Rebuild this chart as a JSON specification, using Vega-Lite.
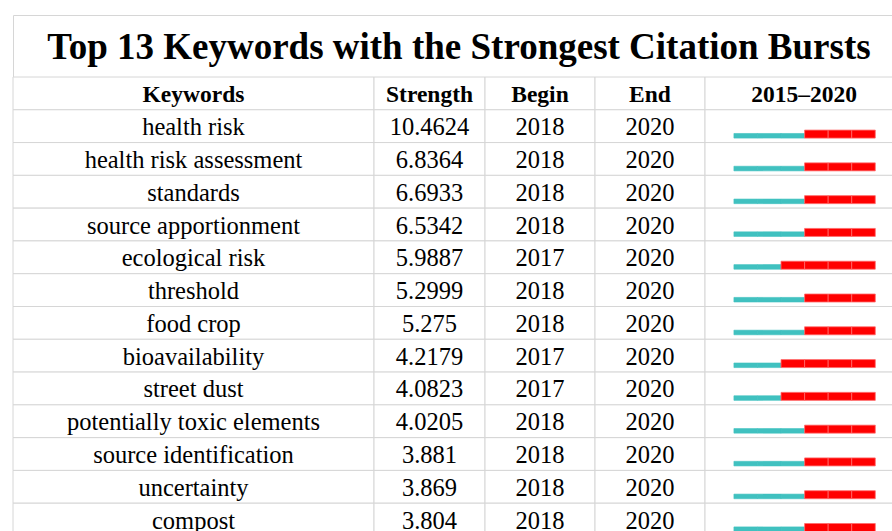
{
  "$schema": "https://vega.github.io/schema/vega-lite/v6.json",
  "padding": {"left": 12, "top": 14, "right": 0, "bottom": 0},
  "background": "white",
  "spacing": 0,
  "bounds": "flush",
  "config": {"view": {"stroke": null}, "concat": {"spacing": 0}},
  "datasets": {
    "headers": [
      {"row": 0, "col": "keyword", "label": "Keywords"},
      {"row": 0, "col": "strength", "label": "Strength"},
      {"row": 0, "col": "begin", "label": "Begin"},
      {"row": 0, "col": "end", "label": "End"},
      {"row": 0, "col": "burst", "label": "2015–2020"}
    ],
    "table": [
      {"row": 1, "keyword": "health risk", "strength": "10.4624", "begin": 2018, "end": 2020, "years": [2015, 2016, 2017, 2018, 2019, 2020]},
      {"row": 2, "keyword": "health risk assessment", "strength": "6.8364", "begin": 2018, "end": 2020, "years": [2015, 2016, 2017, 2018, 2019, 2020]},
      {"row": 3, "keyword": "standards", "strength": "6.6933", "begin": 2018, "end": 2020, "years": [2015, 2016, 2017, 2018, 2019, 2020]},
      {"row": 4, "keyword": "source apportionment", "strength": "6.5342", "begin": 2018, "end": 2020, "years": [2015, 2016, 2017, 2018, 2019, 2020]},
      {"row": 5, "keyword": "ecological risk", "strength": "5.9887", "begin": 2017, "end": 2020, "years": [2015, 2016, 2017, 2018, 2019, 2020]},
      {"row": 6, "keyword": "threshold", "strength": "5.2999", "begin": 2018, "end": 2020, "years": [2015, 2016, 2017, 2018, 2019, 2020]},
      {"row": 7, "keyword": "food crop", "strength": "5.275", "begin": 2018, "end": 2020, "years": [2015, 2016, 2017, 2018, 2019, 2020]},
      {"row": 8, "keyword": "bioavailability", "strength": "4.2179", "begin": 2017, "end": 2020, "years": [2015, 2016, 2017, 2018, 2019, 2020]},
      {"row": 9, "keyword": "street dust", "strength": "4.0823", "begin": 2017, "end": 2020, "years": [2015, 2016, 2017, 2018, 2019, 2020]},
      {"row": 10, "keyword": "potentially toxic elements", "strength": "4.0205", "begin": 2018, "end": 2020, "years": [2015, 2016, 2017, 2018, 2019, 2020]},
      {"row": 11, "keyword": "source identification", "strength": "3.881", "begin": 2018, "end": 2020, "years": [2015, 2016, 2017, 2018, 2019, 2020]},
      {"row": 12, "keyword": "uncertainty", "strength": "3.869", "begin": 2018, "end": 2020, "years": [2015, 2016, 2017, 2018, 2019, 2020]},
      {"row": 13, "keyword": "compost", "strength": "3.804", "begin": 2018, "end": 2020, "years": [2015, 2016, 2017, 2018, 2019, 2020]}
    ]
  },
  "vconcat": [
    {
      "width": 880,
      "height": 62,
      "view": {"stroke": "#d6d6d6", "strokeWidth": 1},
      "data": {"values": [{"title": "Top 13 Keywords with the Strongest Citation Bursts"}]},
      "mark": {"type": "text", "font": "Liberation Serif", "fontWeight": "bold", "fontSize": 37, "color": "black", "dx": 6, "dy": 2},
      "encoding": {"text": {"field": "title", "type": "nominal"}}
    },
    {
      "spacing": 0,
      "bounds": "flush",
      "hconcat": [
        {
          "width": 361,
          "height": 459,
          "encoding": {"y": {"field": "row", "type": "ordinal", "scale": {"domain": [0,1,2,3,4,5,6,7,8,9,10,11,12,13], "paddingInner": 0, "paddingOuter": 0}, "axis": null}},
          "layer": [
            {"data": {"name": "headers"}, "transform": [{"filter": "datum.col == 'keyword'"}], "mark": {"type": "rect", "fill": "white", "stroke": "#d6d6d6", "strokeWidth": 1}},
            {"data": {"name": "headers"}, "transform": [{"filter": "datum.col == 'keyword'"}], "mark": {"type": "text", "font": "Liberation Serif", "fontWeight": "bold", "fontSize": 23.5, "color": "black", "dy": 2}, "encoding": {"text": {"field": "label", "type": "nominal"}}},
            {"data": {"name": "table"}, "mark": {"type": "rect", "fill": "white", "stroke": "#d6d6d6", "strokeWidth": 1}},
            {"data": {"name": "table"}, "mark": {"type": "text", "font": "Liberation Serif", "fontSize": 24.5, "color": "black", "dy": 2}, "encoding": {"text": {"field": "keyword", "type": "nominal"}}}
          ]
        },
        {
          "width": 111,
          "height": 459,
          "encoding": {"y": {"field": "row", "type": "ordinal", "scale": {"domain": [0,1,2,3,4,5,6,7,8,9,10,11,12,13], "paddingInner": 0, "paddingOuter": 0}, "axis": null}},
          "layer": [
            {"data": {"name": "headers"}, "transform": [{"filter": "datum.col == 'strength'"}], "mark": {"type": "rect", "fill": "white", "stroke": "#d6d6d6", "strokeWidth": 1}},
            {"data": {"name": "headers"}, "transform": [{"filter": "datum.col == 'strength'"}], "mark": {"type": "text", "font": "Liberation Serif", "fontWeight": "bold", "fontSize": 23.5, "color": "black", "dy": 2}, "encoding": {"text": {"field": "label", "type": "nominal"}}},
            {"data": {"name": "table"}, "mark": {"type": "rect", "fill": "white", "stroke": "#d6d6d6", "strokeWidth": 1}},
            {"data": {"name": "table"}, "mark": {"type": "text", "font": "Liberation Serif", "fontSize": 24.5, "color": "black", "dy": 2}, "encoding": {"text": {"field": "strength", "type": "nominal"}}}
          ]
        },
        {
          "width": 110,
          "height": 459,
          "encoding": {"y": {"field": "row", "type": "ordinal", "scale": {"domain": [0,1,2,3,4,5,6,7,8,9,10,11,12,13], "paddingInner": 0, "paddingOuter": 0}, "axis": null}},
          "layer": [
            {"data": {"name": "headers"}, "transform": [{"filter": "datum.col == 'begin'"}], "mark": {"type": "rect", "fill": "white", "stroke": "#d6d6d6", "strokeWidth": 1}},
            {"data": {"name": "headers"}, "transform": [{"filter": "datum.col == 'begin'"}], "mark": {"type": "text", "font": "Liberation Serif", "fontWeight": "bold", "fontSize": 23.5, "color": "black", "dy": 2}, "encoding": {"text": {"field": "label", "type": "nominal"}}},
            {"data": {"name": "table"}, "mark": {"type": "rect", "fill": "white", "stroke": "#d6d6d6", "strokeWidth": 1}},
            {"data": {"name": "table"}, "mark": {"type": "text", "font": "Liberation Serif", "fontSize": 24.5, "color": "black", "dy": 2}, "encoding": {"text": {"field": "begin", "type": "nominal"}}}
          ]
        },
        {
          "width": 110,
          "height": 459,
          "encoding": {"y": {"field": "row", "type": "ordinal", "scale": {"domain": [0,1,2,3,4,5,6,7,8,9,10,11,12,13], "paddingInner": 0, "paddingOuter": 0}, "axis": null}},
          "layer": [
            {"data": {"name": "headers"}, "transform": [{"filter": "datum.col == 'end'"}], "mark": {"type": "rect", "fill": "white", "stroke": "#d6d6d6", "strokeWidth": 1}},
            {"data": {"name": "headers"}, "transform": [{"filter": "datum.col == 'end'"}], "mark": {"type": "text", "font": "Liberation Serif", "fontWeight": "bold", "fontSize": 23.5, "color": "black", "dy": 2}, "encoding": {"text": {"field": "label", "type": "nominal"}}},
            {"data": {"name": "table"}, "mark": {"type": "rect", "fill": "white", "stroke": "#d6d6d6", "strokeWidth": 1}},
            {"data": {"name": "table"}, "mark": {"type": "text", "font": "Liberation Serif", "fontSize": 24.5, "color": "black", "dy": 2}, "encoding": {"text": {"field": "end", "type": "nominal"}}}
          ]
        },
        {
          "width": 188,
          "height": 459,
          "encoding": {"y": {"field": "row", "type": "ordinal", "scale": {"domain": [0,1,2,3,4,5,6,7,8,9,10,11,12,13], "paddingInner": 0, "paddingOuter": 0}, "axis": null}},
          "layer": [
            {"data": {"name": "headers"}, "transform": [{"filter": "datum.col == 'burst'"}], "mark": {"type": "rect", "fill": "white", "stroke": "#d6d6d6", "strokeWidth": 1}},
            {"data": {"name": "headers"}, "transform": [{"filter": "datum.col == 'burst'"}], "mark": {"type": "text", "font": "Liberation Serif", "fontWeight": "bold", "fontSize": 23.5, "color": "black", "dx": 5, "dy": 2}, "encoding": {"text": {"field": "label", "type": "nominal"}}},
            {"data": {"name": "table"}, "mark": {"type": "rect", "fill": "white", "stroke": "#d6d6d6", "strokeWidth": 1}},
            {
              "data": {"name": "table"},
              "transform": [{"flatten": ["years"], "as": ["year"]}, {"filter": "datum.year < datum.begin"}],
              "mark": {"type": "rect", "height": 4.6, "yOffset": 9.6, "fill": "#40c1c0", "stroke": "#40c1c0", "strokeWidth": 0.6},
              "encoding": {"x": {"field": "year", "type": "ordinal", "scale": {"domain": [2015, 2016, 2017, 2018, 2019, 2020], "paddingInner": 0, "paddingOuter": 0.99, "align": 0.62}, "axis": null}}
            },
            {
              "data": {"name": "table"},
              "transform": [{"flatten": ["years"], "as": ["year"]}, {"filter": "datum.year >= datum.begin && datum.year <= datum.end"}],
              "mark": {"type": "rect", "height": 8, "yOffset": 7.9, "fill": "#ff0000", "stroke": "#ff6a6a", "strokeWidth": 0.8},
              "encoding": {"x": {"field": "year", "type": "ordinal", "scale": {"domain": [2015, 2016, 2017, 2018, 2019, 2020], "paddingInner": 0, "paddingOuter": 0.99, "align": 0.62}, "axis": null}}
            }
          ]
        }
      ]
    }
  ]
}
